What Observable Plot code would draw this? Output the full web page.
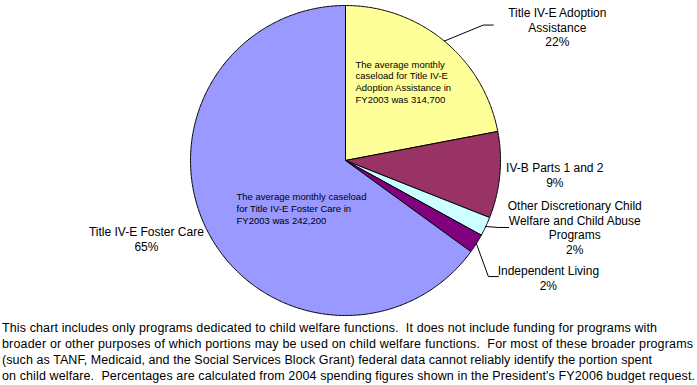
<!DOCTYPE html>
<html><head><meta charset="utf-8">
<script src="https://cdn.jsdelivr.net/npm/d3@7"></script>
<script src="https://cdn.jsdelivr.net/npm/@observablehq/plot@0.6"></script>
<style>
body{margin:0;background:#fff;font-family:"Liberation Sans",Arial,sans-serif;}
#chart svg, #footer svg{display:block}
</style></head><body>
<div id="chart"></div>
<div id="footer"></div>
<script>
// ---- data ----
const programs = ["Title IV-E Adoption Assistance", "IV-B Parts 1 and 2",
  "Other Discretionary Child Welfare and Child Abuse Programs", "Independent Living", "Title IV-E Foster Care"];
const shares = [22, 9, 2, 2, 65];
const labelNames = ["Title IV-E Adoption\nAssistance", "IV-B Parts 1 and 2",
  "Other Discretionary Child\nWelfare and Child Abuse\nPrograms", "Independent Living", "Title IV-E Foster Care"];
const notePrograms = ["Title IV-E Adoption Assistance", "Title IV-E Foster Care"];
const noteTexts = ["The average monthly\ncaseload for Title IV-E\nAdoption Assistance in\nFY2003 was 314,700",
  "The average monthly caseload\nfor Title IV-E Foster Care in\nFY2003 was 242,200"];
const footerLines = [
  "This chart includes only programs dedicated to child welfare functions.  It does not include funding for programs with",
  "broader or other purposes of which portions may be used on child welfare functions.  For most of these broader programs",
  "(such as TANF, Medicaid, and the Social Services Block Grant) federal data cannot reliably identify the portion spent",
  "on child welfare.  Percentages are calculated from 2004 spending figures shown in the President's FY2006 budget request."
];

// ---- styles / layout ----
const sliceColors = ["#FFFF99", "#993366", "#CCFFFF", "#800080", "#9999FF"];
const PX = 1 / 155; // one pixel in data units (radius = 155px)
const labelOffsets = [[113, -14], [55, 0], [89, 1], [72, 34], [-61, 8]]; // px from slice mid edge
const leaderOffsets = [[[39, -16], [49, -16]], null, [[13, 1], [23, 1]], [[12, 33], [22, 33]], null];
const noteOffsets = [[10, -79], [-109, 48]]; // px from center (left edge, middle)
const footerWidths = [655, 691, 650, 693];

// ---- geometry ----
const total = d3.sum(shares);
let cum = 0;
const slices = programs.map((p, i) => {
  const a0 = cum / total * 2 * Math.PI; cum += shares[i];
  const a1 = cum / total * 2 * Math.PI;
  return {program: p, a0, a1, mid: (a0 + a1) / 2, i};
});
const poly = [];
for (const s of slices) {
  poly.push({program: s.program, x: 0, y: 0});
  const n = Math.max(2, Math.ceil((s.a1 - s.a0) / (Math.PI / 360)));
  for (let k = 0; k <= n; k++) {
    const a = s.a0 + (s.a1 - s.a0) * k / n;
    poly.push({program: s.program, x: Math.sin(a), y: Math.cos(a)});
  }
  poly.push({program: s.program, x: 0, y: 0});
}
const labels = slices.map(s => {
  const ex = Math.sin(s.mid), ey = Math.cos(s.mid);
  const [dx, dy] = labelOffsets[s.i];
  return {x: ex + dx * PX, y: ey - dy * PX, text: labelNames[s.i] + "\n" + shares[s.i] + "%"};
});
const leaders = [];
slices.forEach(s => {
  const off = leaderOffsets[s.i];
  if (!off) return;
  const ex = Math.sin(s.mid), ey = Math.cos(s.mid);
  leaders.push({k: s.i, x: ex, y: ey});
  for (const [dx, dy] of off) leaders.push({k: s.i, x: ex + dx * PX, y: ey - dy * PX});
});
const notes = notePrograms.map((p, j) => ({x: noteOffsets[j][0] * PX, y: -noteOffsets[j][1] * PX, text: noteTexts[j]}));

const chart = Plot.plot({
  width: 697, height: 320,
  marginLeft: 190, marginRight: 197, marginTop: 5, marginBottom: 5,
  x: {domain: [-1, 1], axis: null},
  y: {domain: [-1, 1], axis: null},
  color: {domain: programs, range: sliceColors},
  style: {fontFamily: "'Liberation Sans', Arial, sans-serif", background: "#fff", overflow: "visible"},
  marks: [
    Plot.line(poly, {x: "x", y: "y", z: "program", fill: "program", stroke: "#000", strokeWidth: 1, strokeLinejoin: "round"}),
    Plot.line(leaders, {x: "x", y: "y", z: "k", stroke: "#000", strokeWidth: 1}),
    Plot.text(labels, {x: "x", y: "y", text: "text", fontSize: 12, lineHeight: 1.22, textAnchor: "middle", fill: "#000"}),
    Plot.text(notes, {x: "x", y: "y", text: "text", fontSize: 9.5, lineHeight: 1.25, textAnchor: "start", fill: "#000"})
  ]
});
document.getElementById("chart").appendChild(chart);

// caption below the chart
const fsvg = d3.create("svg").attr("width", 697).attr("height", 65)
  .style("font-family", "'Liberation Sans', Arial, sans-serif").style("font-size", "12.5px");
fsvg.selectAll("text").data(footerLines).join("text")
  .attr("x", 2).attr("y", (d, i) => 12 + i * 16)
  .attr("textLength", (d, i) => footerWidths[i]).attr("lengthAdjust", "spacing")
  .attr("xml:space", "preserve").style("white-space", "pre")
  .text(d => d);
document.getElementById("footer").appendChild(fsvg.node());
</script>
</body></html>
